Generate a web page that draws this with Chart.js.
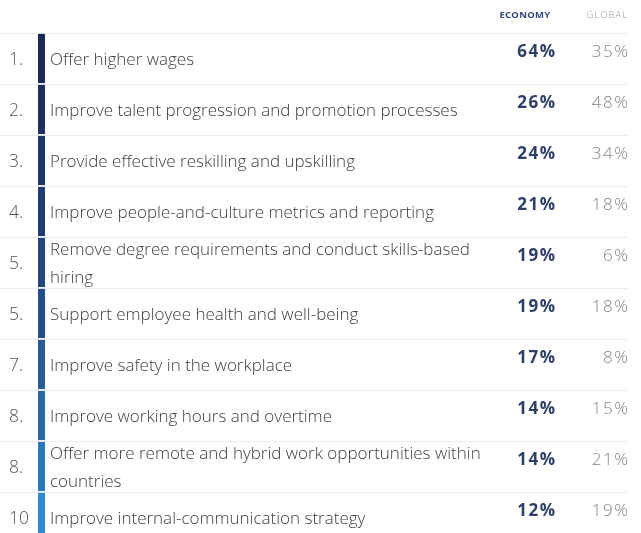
<!DOCTYPE html>
<html>
<head>
<meta charset="utf-8">
<script src="https://cdn.jsdelivr.net/npm/chart.js@4/dist/chart.umd.min.js"></script>
<style>
  html, body { margin: 0; padding: 0; background: #fff; overflow: hidden; }
  #wrap { width: 641px; height: 560px; }
</style>
</head>
<body>
<div id="wrap"><canvas id="chart" width="641" height="560"></canvas></div>
<script>
const ranks = ["1.", "2.", "3.", "4.", "5.", "5.", "7.", "8.", "8.", "10"];
const actions = [
  "Offer higher wages",
  "Improve talent progression and promotion processes",
  "Provide effective reskilling and upskilling",
  "Improve people-and-culture metrics and reporting",
  ["Remove degree requirements and conduct skills-based", "hiring"],
  "Support employee health and well-being",
  "Improve safety in the workplace",
  "Improve working hours and overtime",
  ["Offer more remote and hybrid work opportunities within", "countries"],
  "Improve internal-communication strategy",
];
const economy = [64, 26, 24, 21, 19, 19, 17, 14, 14, 12];
const global = [35, 48, 34, 18, 6, 18, 8, 15, 21, 19];
const columnHeads = ["ECONOMY", "GLOBAL"];

// strip colours, dark navy at the top to light blue at the bottom
const stripColors = [
  "#1d2a56", "#1f305f", "#203668", "#213d72", "#23467e",
  "#245089", "#265b96", "#2767a6", "#2977bd", "#2d89d3",
];

const FONT = "'Open Sans', 'Liberation Sans', Arial, sans-serif";
const STRIP = [38, 45];
const COL = { rank: 9, label: 50, economy: 555, global: 628 };

const tablePlugin = {
  id: "tableText",
  afterDatasetsDraw(chart) {
    const { ctx, scales: { x, y } } = chart;
    ctx.save();
    ctx.textBaseline = "middle";

    // column heads
    ctx.letterSpacing = "0.3px";
    ctx.font = "bold 9.5px " + FONT;
    ctx.fillStyle = "#34497a";
    ctx.textAlign = "center";
    ctx.fillText(columnHeads[0], x.getPixelForValue(525), 15);
    ctx.letterSpacing = "1px";
    ctx.font = "300 9.5px " + FONT;
    ctx.fillStyle = "#9a9a9a";
    ctx.textAlign = "right";
    ctx.fillText(columnHeads[1], x.getPixelForValue(COL.global), 15);

    actions.forEach((label, i) => {
      const cy = y.getPixelForValue(i);
      const lines = Array.isArray(label) ? label : [label];

      ctx.letterSpacing = "0px";
      ctx.textAlign = "left";
      ctx.font = "300 17.5px " + FONT;
      ctx.fillStyle = "#555";
      ctx.fillText(ranks[i], x.getPixelForValue(COL.rank), cy + 2);

      ctx.font = "300 17px " + FONT;
      ctx.fillStyle = "#3c3c3c";
      const lh = 28;
      const top = cy + 2 - (lines.length - 1) * lh / 2;
      lines.forEach((ln, k) => ctx.fillText(ln, x.getPixelForValue(COL.label), top + k * lh));

      ctx.textAlign = "right";
      ctx.letterSpacing = "1.5px";
      ctx.font = "bold 17px " + FONT;
      ctx.fillStyle = "#2e4066";
      ctx.fillText(economy[i] + "%", x.getPixelForValue(COL.economy) + 1.5, cy - 6);

      ctx.letterSpacing = "1.5px";
      ctx.font = "300 17px " + FONT;
      ctx.fillStyle = "#858585";
      ctx.fillText(global[i] + "%", x.getPixelForValue(COL.global) + 1.5, cy - 6);
    });
    ctx.restore();
  },
};

const ctx = document.getElementById("chart").getContext("2d");
const chart = new Chart(ctx, {
  type: "bar",
  data: {
    labels: actions,
    datasets: [
      {
        label: "rank strip",
        data: actions.map(() => STRIP),
        backgroundColor: stripColors,
        barPercentage: 0.965,
        categoryPercentage: 1,
        borderWidth: 0,
      },
    ],
  },
  options: {
    indexAxis: "y",
    responsive: false,
    animation: false,
    layout: { padding: { top: 33, bottom: 17, left: 0, right: 13 } },
    plugins: { legend: { display: false }, tooltip: { enabled: false } },
    scales: {
      x: { type: "linear", min: 0, max: 628, display: false },
      y: {
        type: "category",
        offset: true,
        border: { display: false },
        grid: { offset: true, color: "#ececec", lineWidth: 1, drawTicks: false },
        ticks: { display: false },
        afterFit(scale) { scale.width = 0; },
      },
    },
  },
  plugins: [tablePlugin],
});
</script>
</body>
</html>
